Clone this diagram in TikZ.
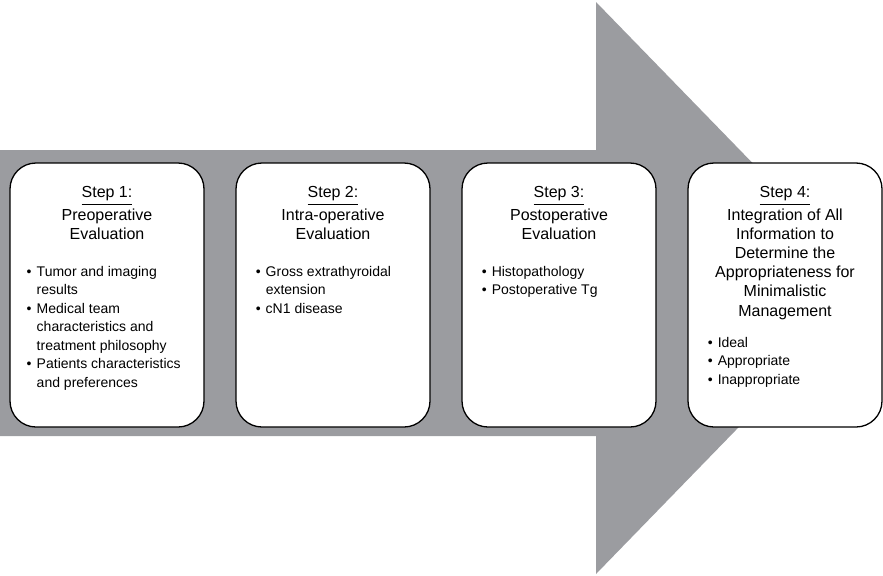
\documentclass[tikz,border=0pt]{standalone}
\usepackage{fontspec}
\setmainfont{Liberation Sans}
\usetikzlibrary{positioning}
\definecolor{arrowgray}{RGB}{155,156,160}
\newcommand{\bul}{\makebox[5pt][l]{\textbullet}}
\newcommand{\ind}{\hspace*{5pt}}

\begin{document}
\begin{tikzpicture}[x=.5pt,y=.5pt]
	\tikzstyle{stepbox}=[draw, line width=.65pt, fill=white, rounded corners=13pt, minimum width=97pt, minimum height=132pt, inner sep=0pt]
	\tikzstyle{steptitle}=[align=center, inner sep=0pt, font=\fontsize{8}{9.6}\selectfont]
	\tikzstyle{stepitems}=[align=left, inner sep=0pt, font=\fontsize{7}{9.25}\selectfont]
	\useasboundingbox (0,0) rectangle (883,575);
	\fill[arrowgray] (0,139) -- (596,139) -- (596,1) -- (874,287) -- (596,573) -- (596,425) -- (0,425) -- cycle;
	\draw (107,280) node (s1) [stepbox] {};
	\draw (333,280) node (s2) [stepbox] {};
	\draw (559,280) node (s3) [stepbox] {};
	\draw (785,280) node (s4) [stepbox] {};
	\node (t1) [steptitle, below=12pt of s1.north] {\underline{Step 1:}\\[1.5pt]Preoperative\\Evaluation};
	\node (t2) [steptitle, below=12pt of s2.north] {\underline{Step 2:}\\[1.5pt]Intra-operative\\Evaluation};
	\node (t3) [steptitle, below=12pt of s3.north] {\underline{Step 3:}\\[1.5pt]Postoperative\\Evaluation};
	\node (t4) [steptitle, below=12pt of s4.north] {\underline{Step 4:}\\[1.5pt]Integration of All\\Information to\\Determine the\\Appropriateness for\\Minimalistic\\Management};
	\coordinate (c1) at (s1.west |- t1.south);
	\coordinate (c2) at (s2.west |- t2.south);
	\coordinate (c3) at (s3.west |- t3.south);
	\coordinate (c4) at (s4.west |- t4.south);
	\node (b1) [stepitems, below right=13pt and 8.5pt of c1] {\bul Tumor and imaging\\\ind results\\\bul Medical team\\\ind characteristics and\\\ind treatment philosophy\\\bul Patients characteristics\\\ind and preferences};
	\node (b2) [stepitems, below right=13pt and 10pt of c2] {\bul Gross extrathyroidal\\\ind extension\\\bul cN1 disease};
	\node (b3) [stepitems, below right=13pt and 10pt of c3] {\bul Histopathology\\\bul Postoperative Tg};
	\node (b4) [stepitems, below right=8.5pt and 10pt of c4] {\bul Ideal\\\bul Appropriate\\\bul Inappropriate};
\end{tikzpicture}
\end{document}
